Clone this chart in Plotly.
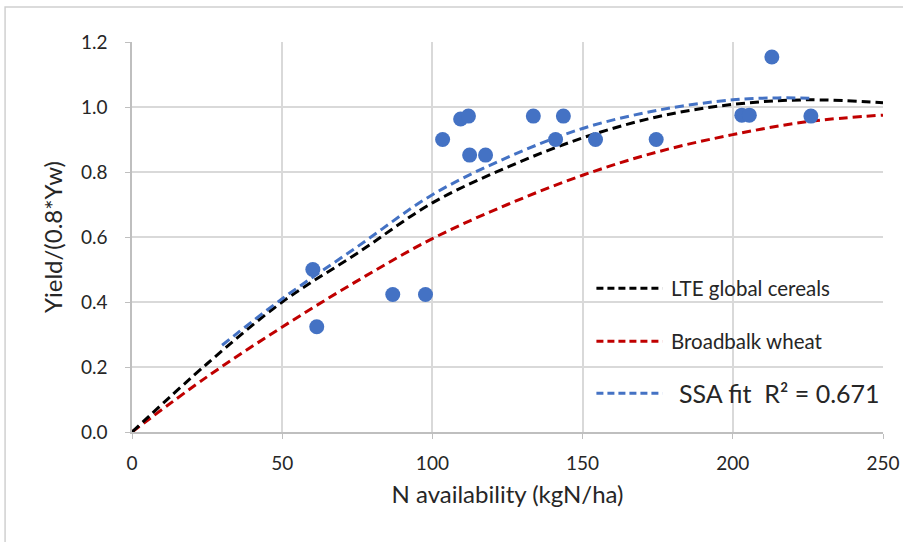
import plotly.graph_objects as go

# Observed data points
n_avail = [60.2, 61.5, 86.8, 97.7, 103.4, 109.4, 112.0, 112.4, 117.7, 133.6,
           141.0, 143.6, 154.3, 174.5, 203.0, 205.5, 213.0, 226.0]
yield_ratio = [0.50, 0.324, 0.423, 0.423, 0.90, 0.963, 0.972, 0.852, 0.852, 0.972,
               0.90, 0.972, 0.90, 0.90, 0.975, 0.975, 1.154, 0.972]

# Curves
lte_x = [0, 25, 50, 75, 100, 125, 150, 175, 200, 225, 250]
lte_y = [0, 0.21, 0.40, 0.55, 0.705, 0.815, 0.905, 0.97, 1.008, 1.022, 1.013]

bb_x = [0, 25, 50, 75, 100, 125, 150, 175, 200, 225, 250]
bb_y = [0, 0.17, 0.323, 0.465, 0.595, 0.70, 0.79, 0.862, 0.915, 0.955, 0.975]

ssa_x = [30, 50, 75, 100, 125, 150, 175, 200, 215, 227]
ssa_y = [0.267, 0.41, 0.57, 0.73, 0.845, 0.934, 0.99, 1.022, 1.028, 1.027]

legend_labels = ["LTE global cereals", "Broadbalk wheat", "SSA fit  R\u00b2 = 0.671"]
legend_colors = ["#000000", "#C00000", "#4472C4"]

FONT = "Lato, Open Sans, sans-serif"
DASH = "9px,5px"
TXT = "#262626"

fig = go.Figure()
fig.add_trace(go.Scatter(x=bb_x, y=bb_y, mode="lines", line_shape="spline",
                         line=dict(color=legend_colors[1], width=3, dash=DASH),
                         name=legend_labels[1]))
fig.add_trace(go.Scatter(x=lte_x, y=lte_y, mode="lines", line_shape="spline",
                         line=dict(color=legend_colors[0], width=3, dash=DASH),
                         name=legend_labels[0]))
fig.add_trace(go.Scatter(x=ssa_x, y=ssa_y, mode="lines", line_shape="spline",
                         line=dict(color=legend_colors[2], width=3, dash=DASH),
                         name=legend_labels[2]))
fig.add_trace(go.Scatter(x=n_avail, y=yield_ratio, mode="markers",
                         marker=dict(color="#4472C4", size=15), name="data"))

# custom legend
leg_y = [0.442, 0.279, 0.119]
leg_sizes = [20.5, 20.5, 25]
leg_text_x = [178.6, 178.6, 181.5]
for lbl, col, yy, fs, tx in zip(legend_labels, legend_colors, leg_y, leg_sizes, leg_text_x):
    fig.add_shape(type="line", x0=154.6, x1=176.6, y0=yy, y1=yy, xref="x", yref="y",
                  line=dict(color=col, width=3, dash="7px,4px"))
    fig.add_annotation(x=tx, y=yy, xref="x", yref="y", text=lbl, showarrow=False,
                       xanchor="left", yanchor="middle",
                       font=dict(family=FONT, size=fs, color=TXT))

# outer frame
fig.add_shape(type="rect", xref="paper", yref="paper",
              x0=-0.169, x1=1.05, y0=-0.33, y1=1.0897,
              line=dict(color="#d0d0d0", width=1.5))

fig.update_layout(
    width=903, height=542,
    margin=dict(l=132, r=20, t=42, b=110),
    paper_bgcolor="white", plot_bgcolor="white",
    showlegend=False,
    font=dict(family=FONT, size=19, color=TXT),
)
fig.update_xaxes(range=[0, 250], dtick=50, showgrid=True, gridcolor="#d9d9d9", gridwidth=1.5,
                 showline=True, linecolor="#bfbfbf", linewidth=1.5,
                 ticks="outside", ticklen=5, tickcolor="#bfbfbf", ticklabelstandoff=8,
                 zeroline=False, mirror=False, automargin=False,
                 title=dict(text="N availability (kgN/ha)", font=dict(size=24, color=TXT), standoff=14),
                 tickfont=dict(size=19, color=TXT))
fig.update_yaxes(range=[0, 1.2], dtick=0.2, tickformat=".1f", showgrid=True, gridcolor="#d9d9d9", gridwidth=1.5,
                 showline=True, linecolor="#bfbfbf", linewidth=1.5,
                 ticks="outside", ticklen=5, tickcolor="#bfbfbf", ticklabelstandoff=14,
                 zeroline=False, automargin=False,
                 title=dict(text="Yield/(0.8*Yw)", font=dict(size=24, color=TXT), standoff=12),
                 tickfont=dict(size=19, color=TXT))

fig.write_html("out.html", config={"displayModeBar": False},
               post_script="document.body.style.margin='0px';")
